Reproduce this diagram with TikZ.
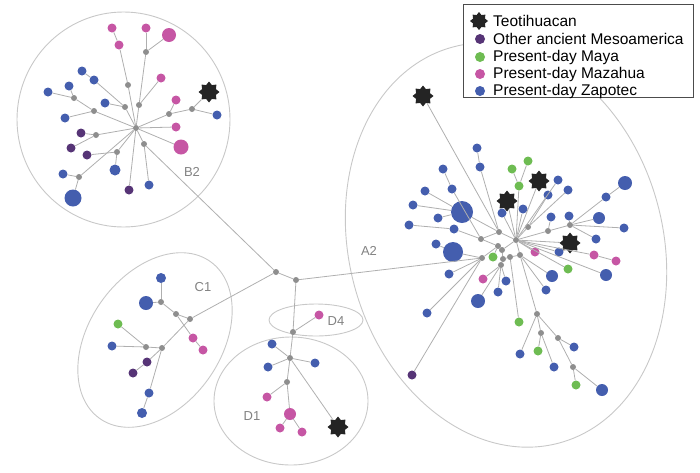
\documentclass[tikz,border=0pt]{standalone}
\usepackage{fontspec}
\setmainfont{Liberation Sans}
\usetikzlibrary{shapes.geometric}
\definecolor{zapblue}{RGB}{68,94,174}
\definecolor{mayagreen}{RGB}{110,188,82}
\definecolor{mazpink}{RGB}{198,86,164}
\definecolor{ancpurple}{RGB}{86,52,118}
\definecolor{medgray}{RGB}{142,142,142}
\definecolor{teoblack}{RGB}{36,36,36}
\definecolor{linkgray}{RGB}{175,175,175}
\definecolor{grpgray}{RGB}{200,200,200}
\definecolor{lblgray}{RGB}{130,130,130}

\begin{document}
\begin{tikzpicture}[x=1pt, y=-1pt,
    hap/.style={circle, inner sep=0pt, minimum size=9pt},
    hv/.style={circle, inner sep=0pt, minimum size=6pt, fill=medgray},
    zap/.style={hap, fill=zapblue},
    maya/.style={hap, fill=mayagreen},
    maz/.style={hap, fill=mazpink},
    anc/.style={hap, fill=ancpurple},
    teo/.style={star, star points=8, star point ratio=1.4, inner sep=0pt, minimum size=21pt, fill=teoblack},
    every edge/.style={draw=linkgray, line width=0.8pt},
    grp/.style={draw=grpgray, line width=0.9pt},
    lbl/.style={text=lblgray, font=\fontsize{13}{13}\selectfont}]

    \useasboundingbox (0,0) rectangle (700,472);

    % groups
    \draw[grp] (123.5,119.5) ellipse [x radius=106.5, y radius=107.5];
    \draw[grp, rotate around={55:(155,340)}] (155,340) ellipse [x radius=96, y radius=66];
    \draw[grp] (316,320) ellipse [x radius=47, y radius=16];
    \draw[grp] (291,401) ellipse [x radius=77, y radius=64];
    \draw[grp, rotate around={15:(506,245)}] (506,245) ellipse [x radius=157, y radius=205];

    \node[lbl] (lB2) at (192,172) {B2};
    \node[lbl] (lC1) at (203,287) {C1};
    \node[lbl] (lD4) at (336,321) {D4};
    \node[lbl] (lD1) at (252,416) {D1};
    \node[lbl] (lA2) at (369,251) {A2};

    % centre
    \node[hv] (m1) at (276,272) {};
    \node[hv] (m2) at (296,280) {};

    % B2
    \node[hv] (b0) at (136,128) {};
    \node[maz] (b1) at (112,28) {};
    \node[maz] (b2) at (146,28) {};
    \node[maz, minimum size=14pt] (b3) at (169,35) {};
    \node[maz] (b4) at (119,45) {};
    \node[hv] (b5) at (146,52) {};
    \node[hv] (b6) at (128,85) {};
    \node[maz] (b7) at (161,78) {};
    \node[hv] (b8) at (139,105) {};
    \node[zap] (b9) at (82,71) {};
    \node[zap] (b10) at (94,80) {};
    \node[zap] (b11) at (48,92) {};
    \node[zap] (b12) at (69,86) {};
    \node[hv] (b13) at (74,98) {};
    \node[hv] (b14) at (94,111) {};
    \node[zap] (b15) at (105,103) {};
    \node[hv] (b16) at (125,107) {};
    \node[zap] (b17) at (65,118) {};
    \node[maz] (b18) at (176,100) {};
    \node[hv] (b19) at (169,114) {};
    \node[hv] (b20) at (192,109) {};
    \node[teo] (b21) at (209,92) {};
    \node[zap] (b22) at (217,115) {};
    \node[maz] (b23) at (176,127) {};
    \node[maz, minimum size=15pt] (b24) at (181,147) {};
    \node[hv] (b25) at (144,144) {};
    \node[anc] (b26) at (81,133) {};
    \node[hv] (b27) at (96,135) {};
    \node[anc] (b28) at (71,148) {};
    \node[anc] (b29) at (87,155) {};
    \node[hv] (b30) at (117,152) {};
    \node[zap, minimum size=11pt] (b31) at (115,170) {};
    \node[zap] (b32) at (63,174) {};
    \node[hv] (b33) at (79,177) {};
    \node[zap, minimum size=17pt] (b34) at (73,198) {};
    \node[anc] (b35) at (129,190) {};
    \node[zap] (b36) at (149,185) {};

    \path (b1) edge (b4) (b4) edge (b6) (b6) edge (b0);
    \path (b2) edge (b5) (b3) edge (b5) (b5) edge (b8) (b7) edge (b8) (b8) edge (b0);
    \path (b9) edge (b10) (b10) edge (b16) (b15) edge (b16) (b16) edge (b0);
    \path (b11) edge (b13) (b12) edge (b13) (b13) edge (b14) (b17) edge (b14) (b14) edge (b0);
    \path (b18) edge (b19) (b19) edge (b0) (b19) edge (b20) (b20) edge (b21) (b20) edge (b22);
    \path (b23) edge (b0) (b24) edge (b0) (b25) edge (b0) (b25) edge (b36);
    \path (b26) edge (b27) (b28) edge (b27) (b27) edge (b0);
    \path (b29) edge (b30) (b31) edge (b30) (b30) edge (b0);
    \path (b32) edge (b33) (b34) edge (b33) (b33) edge (b0) (b35) edge (b0);

    % C1
    \node[zap, minimum size=10pt] (c1) at (161,278) {};
    \node[zap, minimum size=14pt] (c2) at (146,303) {};
    \node[hv] (c3) at (161,302) {};
    \node[hv] (c4) at (176,314) {};
    \node[hv] (c5) at (190,319) {};
    \node[maz] (c6) at (193,338) {};
    \node[maz] (c7) at (203,350) {};
    \node[maya] (c8) at (118,324) {};
    \node[zap] (c9) at (112,346) {};
    \node[hv] (c10) at (146,347) {};
    \node[hv] (c11) at (162,348) {};
    \node[anc] (c12) at (147,362) {};
    \node[anc] (c13) at (133,373) {};
    \node[zap] (c14) at (149,393) {};
    \node[zap, minimum size=10pt] (c15) at (142,413) {};

    \path (c1) edge (c3) (c2) edge (c3) (c3) edge (c4) (c4) edge (c5);
    \path (c4) edge (c6) (c6) edge (c7) (c5) edge (c11);
    \path (c8) edge (c10) (c9) edge (c10) (c10) edge (c11);
    \path (c12) edge (c11) (c13) edge (c12) (c11) edge (c14) (c14) edge (c15);

    % D4 and D1
    \node[hv] (d0) at (293,332) {};
    \node[maz] (d1) at (319,315) {};
    \node[hv] (d2) at (290,358) {};
    \node[zap] (d3) at (272,344) {};
    \node[zap] (d4) at (268,367) {};
    \node[zap] (d5) at (315,363) {};
    \node[hv] (d6) at (287,382) {};
    \node[maz] (d7) at (267,397) {};
    \node[maz, minimum size=12pt] (d8) at (290,414) {};
    \node[maz] (d9) at (280,428) {};
    \node[maz] (d10) at (302,432) {};
    \node[teo] (d11) at (338,427) {};

    \path (d0) edge (d1) (d0) edge (d2);
    \path (d2) edge (d3) (d2) edge (d4) (d2) edge (d5) (d2) edge (d6) (d2) edge (d11);
    \path (d6) edge (d7) (d6) edge (d8) (d8) edge (d9) (d8) edge (d10);

    % A2
    \node[hv] (a0) at (516,240) {};
    \node[hv] (a1) at (499,232) {};
    \node[hv] (a2) at (481,239) {};
    \node[hv] (a3) at (498,246) {};
    \node[hv] (a4) at (502,250) {};
    \node[hv] (a5) at (482,258) {};
    \node[hv] (a6) at (503,259) {};
    \node[hv] (a7) at (510,257) {};
    \node[hv] (a8) at (520,255) {};
    \node[hv] (a9) at (501,265) {};
    \node[hv] (a10) at (528,227) {};
    \node[hv] (a11) at (548,231) {};
    \node[hv] (a12) at (570,225) {};
    \node[hv] (a13) at (537,314) {};
    \node[hv] (a14) at (541,333) {};
    \node[hv] (a15) at (558,338) {};
    \node[hv] (a16) at (573,367) {};
    \node[teo] (a17) at (423,96) {};
    \node[teo] (a18) at (539,181) {};
    \node[teo] (a19) at (507,201) {};
    \node[teo] (a20) at (570,243) {};
    \node[zap] (a21) at (477,148) {};
    \node[zap] (a22) at (480,167) {};
    \node[zap] (a23) at (443,169) {};
    \node[zap] (a24) at (452,189) {};
    \node[zap] (a25) at (425,191) {};
    \node[zap] (a26) at (413,205) {};
    \node[zap, minimum size=22pt] (a27) at (462,212) {};
    \node[zap] (a28) at (438,218) {};
    \node[zap] (a29) at (409,225) {};
    \node[zap] (a30) at (454,229) {};
    \node[zap] (a31) at (436,244) {};
    \node[zap, minimum size=20pt] (a32) at (453,252) {};
    \node[zap] (a33) at (449,274) {};
    \node[maz] (a34) at (483,279) {};
    \node[zap] (a35) at (506,281) {};
    \node[zap] (a36) at (498,292) {};
    \node[zap, minimum size=14pt] (a37) at (478,301) {};
    \node[zap] (a38) at (427,313) {};
    \node[anc] (a39) at (412,375) {};
    \node[maya] (a40) at (493,257) {};
    \node[maya] (a41) at (528,161) {};
    \node[maya] (a42) at (512,169) {};
    \node[maya] (a43) at (519,186) {};
    \node[zap] (a44) at (502,213) {};
    \node[zap] (a45) at (523,209) {};
    \node[zap] (a46) at (558,180) {};
    \node[zap] (a47) at (548,195) {};
    \node[zap] (a48) at (568,190) {};
    \node[zap, minimum size=14pt] (a49) at (625,183) {};
    \node[zap] (a50) at (606,197) {};
    \node[zap] (a51) at (551,217) {};
    \node[zap] (a52) at (569,216) {};
    \node[zap, minimum size=12pt] (a53) at (599,218) {};
    \node[zap] (a54) at (624,228) {};
    \node[zap] (a55) at (596,239) {};
    \node[zap] (a56) at (559,252) {};
    \node[maz] (a57) at (535,252) {};
    \node[maz] (a58) at (594,255) {};
    \node[maz] (a59) at (616,261) {};
    \node[maya] (a60) at (568,269) {};
    \node[zap, minimum size=12pt] (a61) at (552,276) {};
    \node[zap, minimum size=12pt] (a62) at (606,275) {};
    \node[zap] (a63) at (546,290) {};
    \node[maya] (a64) at (519,322) {};
    \node[zap] (a65) at (520,354) {};
    \node[maya] (a66) at (538,351) {};
    \node[zap] (a67) at (554,367) {};
    \node[zap] (a68) at (574,347) {};
    \node[maya] (a69) at (576,385) {};
    \node[zap, minimum size=12pt] (a70) at (602,390) {};

    \path (a1) edge (a0) (a2) edge (a3) (a3) edge (a4) (a4) edge (a0) (a5) edge (a3);
    \path (a6) edge (a7) (a7) edge (a8) (a8) edge (a0) (a9) edge (a6) (a6) edge (a4) (a2) edge (a1);
    \path (a17) edge (a1) (a21) edge (a22) (a22) edge (a1) (a23) edge (a24) (a24) edge (a2);
    \path (a25) edge (a27) (a26) edge (a27) (a28) edge (a27) (a27) edge (a1);
    \path (a29) edge (a30) (a30) edge (a2) (a31) edge (a32) (a32) edge (a5);
    \path (a33) edge (a5) (a38) edge (a5) (a39) edge (a5) (a40) edge (a3);
    \path (a34) edge (a9) (a35) edge (a9) (a36) edge (a9) (a37) edge (a9);
    \path (a41) edge (a43) (a42) edge (a43) (a43) edge (a0);
    \path (a18) edge (a0) (a19) edge (a0) (a44) edge (a0) (a45) edge (a0) (a46) edge (a0);
    \path (a47) edge (a10) (a48) edge (a10) (a10) edge (a0);
    \path (a49) edge (a50) (a50) edge (a12) (a12) edge (a11) (a11) edge (a0) (a51) edge (a11);
    \path (a52) edge (a12) (a53) edge (a12) (a54) edge (a12) (a55) edge (a12);
    \path (a20) edge (a0) (a56) edge (a0) (a57) edge (a0) (a0) edge (a58) (a58) edge (a59);
    \path (a60) edge (a0) (a61) edge (a8) (a62) edge (a0) (a63) edge (a8) (a64) edge (a7);
    \path (a13) edge (a8) (a13) edge (a65) (a13) edge (a14) (a14) edge (a66) (a14) edge (a67);
    \path (a13) edge (a15) (a15) edge (a68) (a15) edge (a16) (a16) edge (a69) (a16) edge (a70);

    % links between groups
    \path (b25) edge (m1) (m1) edge (c5) (m1) edge (m2) (m2) edge (a5) (m2) edge (d0);

    % legend
    \draw[draw=black!70, fill=white, line width=1pt] (463,4) rectangle (693,97);
    \node[teo, minimum size=18pt] (kteo) at (479,21) {};
    \node[anc, minimum size=10pt] (kanc) at (480,39) {};
    \node[maya, minimum size=10pt] (kmaya) at (480,57) {};
    \node[maz, minimum size=10pt] (kmaz) at (480,74) {};
    \node[zap, minimum size=10pt] (kzap) at (480,91) {};
    \foreach \k/\t in {teo/Teotihuacan, anc/Other ancient Mesoamerica, maya/Present-day Maya, maz/Present-day Mazahua, zap/Present-day Zapotec}
        \node[anchor=west, inner sep=0pt, font=\fontsize{15.5}{17}\selectfont] at ([xshift=14pt]k\k.center -| 479,0) {\t};
\end{tikzpicture}
\end{document}
